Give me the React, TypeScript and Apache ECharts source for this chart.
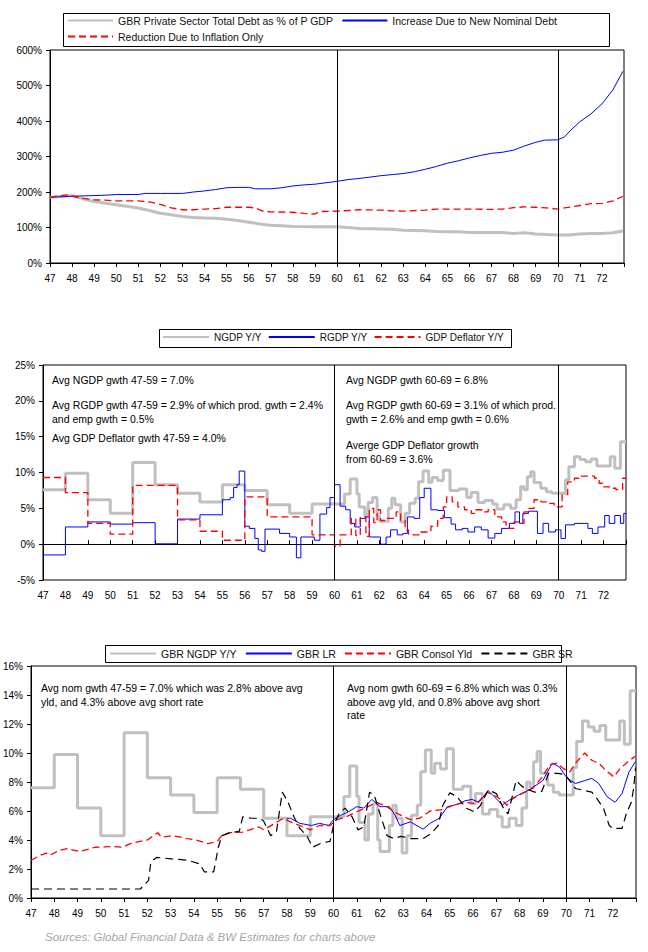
import React, { useEffect, useRef } from 'react';
import * as echarts from 'echarts';

const FONT = '"Liberation Sans", Arial, sans-serif';
const GRAY = '#c0c0c0';
const BLUE = '#0000ff';
const RED = '#ff0000';

// ---------- Chart 1: debt ratio ----------
const debtRatio = [
  [1947, 185], [1948, 190], [1948.5, 181], [1949, 173], [1950, 164], [1951, 155], [1951.5, 148],
  [1952, 140], [1953, 131], [1953.5, 128], [1954, 127], [1954.5, 126], [1955, 123], [1955.5, 120],
  [1956, 115], [1956.5, 110], [1957, 106], [1957.5, 105], [1958, 103], [1959, 102], [1960, 102],
  [1960.5, 100], [1961, 97], [1962, 96], [1962.5, 95], [1963, 92], [1964, 91], [1964.5, 89],
  [1965, 88], [1965.5, 88], [1966, 86], [1967, 86], [1967.5, 86], [1968, 83], [1968.5, 85],
  [1969, 82], [1969.5, 80], [1970, 79], [1970.5, 79], [1971, 82], [1971.5, 83], [1972, 83],
  [1972.5, 85], [1972.95, 90],
];
const newDebtIncrease = [
  [1947, 185], [1948, 188], [1949, 190], [1949.5, 191], [1950, 193], [1951, 193], [1951.3, 196],
  [1952, 196], [1953, 196], [1953.5, 200], [1954, 203], [1954.5, 207], [1955, 212], [1955.5, 213],
  [1956, 213], [1956.3, 209], [1957, 209], [1957.5, 212], [1958, 217], [1958.5, 220], [1959, 222],
  [1959.5, 226], [1960, 230], [1960.5, 235], [1961, 238], [1961.5, 242], [1962, 246], [1962.5, 249],
  [1963, 252], [1963.5, 257], [1964, 264], [1964.5, 272], [1965, 281], [1965.5, 288], [1966, 296],
  [1966.5, 303], [1967, 309], [1967.5, 312], [1968, 318], [1968.5, 330], [1969, 340], [1969.4, 346],
  [1970, 347], [1970.3, 355], [1970.6, 375], [1971, 398], [1971.5, 420], [1972, 448], [1972.5, 488],
  [1972.95, 540],
];
const inflationReduction = [
  [1947, 185], [1947.5, 190], [1947.8, 192], [1948, 188], [1948.5, 182], [1949, 178], [1949.5, 177],
  [1950, 175], [1951, 175], [1951.5, 172], [1952, 165], [1952.5, 155], [1953, 150], [1953.5, 150],
  [1954, 152], [1954.5, 153], [1955, 157], [1956, 157], [1956.3, 155], [1956.6, 147], [1957, 144],
  [1958, 143], [1958.5, 140], [1959, 138], [1959.2, 145], [1960, 146], [1961, 150], [1962, 149],
  [1962.5, 147], [1963, 146], [1964, 149], [1964.5, 152], [1965, 152], [1966, 152], [1967, 151],
  [1967.5, 152], [1968, 156], [1968.5, 158], [1969, 157], [1969.5, 155], [1970, 152], [1970.3, 155],
  [1971, 162], [1971.5, 167], [1972, 168], [1972.5, 175], [1972.95, 188],
];

// ---------- Chart 2 & 3: growth rates (step data, value holds until next point) ----------
const ngdpYoY = [
  [1947, 7.6], [1948, 9.9], [1949, 6.2], [1950, 4.3], [1951, 11.4], [1952, 8.3], [1953, 7.1],
  [1954, 5.9], [1955, 8.3], [1956, 7.5], [1957, 5.5], [1958, 4.3], [1959, 5.6],
  [1960.45, 7.0], [1960.7, 9.1], [1961.0, 7.0], [1961.1, 5.2], [1961.35, 4.0], [1961.5, 5.8],
  [1961.7, 6.5], [1961.9, 4.0], [1962.0, 3.2], [1962.4, 5.0], [1962.55, 6.4], [1962.7, 5.5],
  [1962.95, 3.1], [1963.15, 4.3], [1963.35, 5.7], [1963.6, 6.4], [1963.75, 8.7], [1963.95, 10.2],
  [1964.2, 8.6], [1964.35, 9.3], [1964.6, 8.9], [1964.85, 10.3], [1965.15, 7.5], [1965.55, 7.7],
  [1965.9, 6.5], [1966.1, 7.2], [1966.4, 5.8], [1966.7, 6.1], [1967.05, 5.6], [1967.25, 4.9],
  [1967.55, 5.5], [1967.85, 5.0], [1968.1, 6.2], [1968.3, 8.0], [1968.45, 7.6], [1968.6, 9.4],
  [1968.75, 10.1], [1968.9, 8.6], [1969.2, 7.8], [1969.45, 7.3], [1969.7, 7.1], [1970.3, 9.0],
  [1970.45, 10.8], [1970.7, 12.2], [1970.95, 11.8], [1971.2, 11.5], [1971.45, 11.9], [1971.7, 10.9],
  [1972.3, 12.2], [1972.5, 10.6], [1972.75, 14.3], [1973, 14.3],
];
const rgdpYoY = [
  [1947, -1.5], [1948, 2.4], [1949, 3.1], [1950, 2.8], [1951, 3.0], [1952, 0.05], [1953, 3.5],
  [1954, 4.1], [1955, 6.2], [1955.35, 6.5], [1955.5, 7.9], [1955.65, 8.3], [1955.75, 10.2],
  [1956.0, 2.5], [1956.2, 2.2], [1956.45, 0.8], [1956.6, -0.8], [1956.75, -1.0], [1956.9, 2.1],
  [1957.55, 1.5], [1958.0, 1.0], [1958.3, -1.9], [1958.5, 1.0], [1959.1, 0.55], [1959.35, 4.2],
  [1959.65, 5.1], [1959.8, 6.5], [1960.0, 8.3], [1960.25, 5.3], [1960.5, 4.8], [1960.7, 2.9],
  [1960.9, 2.4], [1961.15, 3.6], [1961.4, 3.8], [1961.55, 1.0], [1962.05, 0.0], [1962.3, 1.0],
  [1962.5, 2.0], [1962.8, 1.3], [1963.05, 1.5], [1963.25, 3.8], [1963.55, 3.6], [1963.8, 6.5],
  [1964.0, 7.8], [1964.3, 4.8], [1964.6, 4.7], [1964.9, 3.7], [1965.2, 2.8], [1965.4, 2.0],
  [1965.7, 2.2], [1965.95, 1.7], [1966.25, 2.4], [1966.55, 2.0], [1966.85, 0.85], [1967.15, 1.5],
  [1967.45, 2.2], [1967.8, 2.9], [1968.05, 4.5], [1968.25, 2.9], [1968.4, 4.3], [1968.65, 4.6],
  [1969.05, 1.5], [1969.3, 2.9], [1969.55, 1.7], [1969.85, 2.0], [1970.1, 0.8], [1970.3, 2.7],
  [1970.7, 2.9], [1971.3, 2.2], [1971.5, 1.5], [1971.75, 2.4], [1972.05, 4.0], [1972.25, 2.9],
  [1972.5, 4.0], [1972.75, 2.9], [1972.9, 4.3], [1973, 4.3],
];
const deflatorYoY = [
  [1947, 9.3], [1948, 7.2], [1949, 2.9], [1950, 1.4], [1951, 8.2], [1953, 3.4], [1954, 1.8],
  [1955, 0.55], [1956, 6.6], [1957, 3.8], [1959, 1.3], [1960, -0.3], [1960.25, 1.3], [1960.75, 3.6],
  [1960.95, 1.2], [1961.15, 3.8], [1961.4, 1.1], [1961.55, 5.0], [1961.75, 3.0], [1961.9, 4.8],
  [1962.05, 3.3], [1962.25, 3.6], [1962.75, 4.5], [1962.95, 3.3], [1963.15, 2.0], [1963.3, 1.3],
  [1963.85, 1.7], [1964.3, 2.5], [1964.6, 3.6], [1964.85, 5.2], [1965.0, 6.6], [1965.25, 5.9],
  [1965.5, 5.2], [1965.8, 4.8], [1966.1, 4.3], [1966.3, 4.8], [1966.6, 4.5], [1966.85, 4.8],
  [1967.15, 3.8], [1967.45, 3.1], [1967.65, 2.2], [1968.0, 3.1], [1968.25, 2.9], [1968.45, 4.5],
  [1968.65, 5.0], [1968.9, 6.2], [1969.2, 5.9], [1969.5, 5.7], [1969.8, 5.2], [1970.15, 6.9],
  [1970.4, 8.7], [1970.7, 9.2], [1971.0, 9.5], [1971.6, 9.2], [1971.8, 8.5], [1972.0, 8.0],
  [1972.35, 7.8], [1972.55, 7.6], [1972.85, 9.2], [1973, 9.2],
];

// ---------- Chart 3: interest rates ----------
const longRate = [
  [1958.0, 5.5], [1958.15, 5.5], [1958.55, 5.15], [1959.05, 5.0], [1959.4, 5.15], [1959.8, 5.0],
  [1960.0, 5.4], [1960.3, 5.7], [1960.65, 5.95], [1961.0, 6.3], [1961.3, 6.2], [1961.65, 6.8],
  [1962.0, 6.3], [1962.4, 6.3], [1962.65, 5.7], [1962.85, 5.0], [1963.3, 5.25], [1963.85, 4.75],
  [1964.15, 5.15], [1964.55, 5.5], [1964.9, 6.3], [1965.3, 6.45], [1965.65, 6.7], [1965.95, 6.8],
  [1966.25, 6.6], [1966.65, 7.4], [1967.0, 6.85], [1967.25, 6.4], [1967.55, 6.75], [1967.95, 7.1],
  [1968.4, 7.45], [1969.0, 8.1], [1969.4, 9.3], [1969.7, 9.05], [1970.05, 8.25], [1970.4, 7.9],
  [1970.8, 8.1], [1971.1, 8.25], [1971.4, 7.9], [1971.75, 7.0], [1972.1, 6.6], [1972.4, 7.2],
  [1972.7, 8.7], [1972.97, 9.4],
];
const consolYield = [
  [1947, 2.6], [1947.4, 2.95], [1947.65, 3.1], [1947.8, 2.95], [1948.25, 3.3], [1948.55, 3.4],
  [1949.1, 3.2], [1949.75, 3.5], [1950.5, 3.55], [1950.9, 3.5], [1951.35, 3.8], [1952.0, 4.0],
  [1952.45, 4.5], [1952.6, 4.2], [1953.1, 4.3], [1953.7, 4.1], [1954.1, 4.0], [1954.6, 3.75],
  [1955.0, 3.9], [1955.2, 4.3], [1955.5, 4.5], [1956.1, 4.55], [1956.8, 4.9], [1957.0, 4.7],
  [1957.85, 5.5], [1958.15, 5.25], [1958.55, 5.0], [1959.0, 4.7], [1959.4, 5.0], [1959.85, 5.0],
  [1960.15, 5.4], [1960.55, 5.6], [1961.0, 5.95], [1961.35, 6.2], [1961.85, 6.6], [1962.3, 6.3],
  [1962.6, 5.95], [1962.9, 5.7], [1963.3, 5.4], [1963.7, 5.5], [1964.15, 6.0], [1964.7, 6.1],
  [1965.15, 6.4], [1965.65, 6.6], [1966.15, 6.5], [1966.6, 7.3], [1967.0, 7.0], [1967.25, 6.75],
  [1967.45, 6.4], [1967.7, 6.85], [1968.1, 7.2], [1968.55, 7.55], [1968.95, 8.3], [1969.3, 9.2],
  [1969.6, 9.3], [1969.9, 8.9], [1970.15, 8.7], [1970.45, 9.4], [1970.8, 10.0], [1971.1, 9.5],
  [1971.4, 9.3], [1971.7, 8.8], [1972.05, 8.35], [1972.3, 8.9], [1972.65, 9.4], [1972.95, 9.75],
];
const shortRate = [
  [1947, 0.62], [1951.7, 0.62], [1951.85, 0.9], [1952.05, 1.2], [1952.15, 2.5], [1952.4, 2.8],
  [1953.05, 2.7], [1953.75, 2.6], [1954.25, 2.35], [1954.45, 1.8], [1954.85, 1.8], [1955.05, 3.5],
  [1955.2, 4.3], [1955.55, 4.5], [1955.95, 4.6], [1956.1, 5.6], [1956.45, 5.5], [1956.85, 5.5],
  [1957.0, 5.3], [1957.3, 4.3], [1957.55, 4.6], [1957.8, 7.3], [1958.05, 6.6], [1958.3, 5.6],
  [1958.55, 4.8], [1958.85, 4.3], [1959.1, 3.5], [1959.5, 3.8], [1959.85, 3.9], [1960.0, 5.0],
  [1960.25, 5.85], [1960.5, 6.2], [1960.8, 5.6], [1961.05, 4.7], [1961.3, 4.9], [1961.55, 7.3],
  [1961.75, 7.1], [1962.0, 5.8], [1962.3, 4.3], [1962.6, 4.1], [1962.9, 4.25], [1963.35, 4.1],
  [1963.85, 4.1], [1964.2, 4.45], [1964.5, 5.0], [1964.7, 6.4], [1965.0, 7.25], [1965.3, 7.0],
  [1965.7, 6.2], [1966.05, 5.95], [1966.3, 6.35], [1966.65, 7.45], [1967.0, 7.2], [1967.3, 6.2],
  [1967.5, 5.8], [1967.85, 8.1], [1968.1, 7.7], [1968.4, 7.45], [1968.65, 7.3], [1968.95, 7.35],
  [1969.25, 8.6], [1969.65, 8.6], [1969.95, 8.5], [1970.15, 8.1], [1970.4, 7.55], [1970.7, 7.45],
  [1971.1, 7.3], [1971.3, 6.9], [1971.6, 6.2], [1971.85, 5.0], [1972.0, 4.8], [1972.4, 4.8],
  [1972.6, 5.9], [1972.8, 6.6], [1972.9, 7.6], [1972.98, 9.0],
];

const dividerYears = [1960, 1970];

const legendTop1 = ['GBR Private Sector Total Debt as % of P GDP', 'Increase Due to New Nominal Debt'];
const legendTop2 = ['Reduction Due to Inflation Only'];
const legendMid = ['NGDP Y/Y', 'RGDP Y/Y', 'GDP Deflator Y/Y'];
const legendBot = ['GBR NGDP Y/Y', 'GBR LR', 'GBR Consol Yld', 'GBR SR'];

const midNotesLeft = [
  'Avg NGDP gwth 47-59 = 7.0%',
  'Avg RGDP gwth 47-59 = 2.9% of which prod. gwth = 2.4%',
  'and emp gwth = 0.5%',
  'Avg GDP Deflator gwth 47-59 = 4.0%',
];
const midNotesRight = [
  'Avg NGDP gwth 60-69 = 6.8%',
  'Avg RGDP gwth 60-69 = 3.1% of which prod.',
  'gwth = 2.6% and emp gwth = 0.6%',
  'Averge GDP Deflator growth',
  'from 60-69 = 3.6%',
];
const botNotesLeft = [
  'Avg nom gwth 47-59 = 7.0% which was 2.8% above avg',
  'yld, and 4.3% above avg short rate',
];
const botNotesRight = [
  'Avg nom gwth 60-69 = 6.8% which was 0.3%',
  'above avg yld, and 0.8% above avg short',
  'rate',
];
const sourceNote = 'Sources: Global Financial Data & BW Estimates for charts above';

const labelStyle = { fontSize: 10, color: '#000', fontFamily: FONT };
const legendText = { fontSize: 10.5, color: '#111', fontFamily: FONT };
const legendTextSmall = { fontSize: 10, color: '#111', fontFamily: FONT };

function xAxisFor(gridIndex: number, extra: any = {}) {
  return {
    type: 'value',
    gridIndex,
    min: 1947,
    max: 1973,
    interval: 1,
    splitLine: { show: false },
    axisLine: { onZero: false, lineStyle: { color: '#000', width: 1 } },
    axisTick: { show: true, length: 4, lineStyle: { color: '#000' } },
    axisLabel: {
      ...labelStyle,
      margin: 10,
      formatter: (v: number) => (Math.round(v) >= 1973 ? '' : String(Math.round(v) % 100)),
    },
    ...extra,
  };
}

function yAxisFor(gridIndex: number, min: number, max: number, interval: number) {
  return {
    type: 'value',
    gridIndex,
    min,
    max,
    interval,
    splitLine: { show: false },
    axisLine: { show: true, onZero: false, lineStyle: { color: '#000' } },
    axisTick: { show: true, length: 4, lineStyle: { color: '#000' } },
    axisLabel: { ...labelStyle, margin: 8, formatter: '{value}%' },
  };
}

const dividers = {
  silent: true,
  symbol: ['none', 'none'],
  label: { show: false },
  lineStyle: { color: '#000', width: 1, type: 'solid' },
  data: dividerYears.map((y) => ({ xAxis: y })),
};

function lineSeries(name: string, data: number[][], xi: number, yi: number, style: any, extra: any = {}) {
  return {
    type: 'line',
    name,
    data,
    xAxisIndex: xi,
    yAxisIndex: yi,
    symbol: 'none',
    showSymbol: false,
    itemStyle: { color: style.color },
    lineStyle: style,
    ...extra,
  };
}

function textEl(text: string, x: number, y: number, extra: any = {}) {
  return {
    type: 'text',
    x,
    y,
    silent: true,
    style: {
      text,
      fill: '#000',
      fontSize: 10.5,
      fontFamily: FONT,
      align: 'left',
      verticalAlign: 'middle',
      ...extra,
    },
  };
}

function frameEl(x: number, y: number, w: number, h: number) {
  return {
    type: 'rect',
    silent: true,
    shape: { x, y, width: w, height: h },
    style: { fill: 'none', stroke: '#000', lineWidth: 1 },
  };
}

const legendBase = {
  padding: 0,
  itemHeight: 10,
  itemStyle: { opacity: 0 },
  selectedMode: false,
};

const option: any = {
  animation: false,
  backgroundColor: '#fff',
  textStyle: { fontFamily: FONT },
  grid: [
    { left: 50, top: 50, width: 574, height: 213, show: true, borderColor: '#000', borderWidth: 1, backgroundColor: 'transparent' },
    { left: 43, top: 365, width: 583, height: 215, show: true, borderColor: '#000', borderWidth: 1, backgroundColor: 'transparent' },
    { left: 31, top: 666, width: 605, height: 232, show: true, borderColor: '#000', borderWidth: 1, backgroundColor: 'transparent' },
  ],
  xAxis: [
    xAxisFor(0),
    xAxisFor(1, { axisTick: { show: false }, axisLine: { show: false, onZero: false } }),
    xAxisFor(1, {
      axisLine: { show: true, onZero: true, lineStyle: { color: '#000', width: 1 } },
      axisLabel: { show: false },
    }),
    xAxisFor(2),
  ],
  yAxis: [yAxisFor(0, 0, 600, 100), yAxisFor(1, -5, 25, 5), yAxisFor(2, 0, 16, 2)],
  legend: [
    { ...legendBase, left: 67, top: 15, itemGap: 8, itemWidth: 45, data: legendTop1, textStyle: legendText },
    { ...legendBase, left: 67, top: 31, itemGap: 8, itemWidth: 45, data: legendTop2, textStyle: legendText },
    { ...legendBase, left: 162, top: 332, itemGap: 6, itemWidth: 46, data: legendMid, textStyle: legendTextSmall },
    { ...legendBase, left: 109, top: 648, itemGap: 8, itemWidth: 46, data: legendBot, textStyle: legendText },
  ],
  series: [
    lineSeries(legendTop1[0], debtRatio, 0, 0, { color: GRAY, width: 3 }, { markLine: dividers }),
    lineSeries(legendTop1[1], newDebtIncrease, 0, 0, { color: BLUE, width: 1 }),
    lineSeries(legendTop2[0], inflationReduction, 0, 0, { color: RED, width: 1.3, type: [7, 4] }),

    lineSeries(legendMid[0], ngdpYoY, 1, 1, { color: GRAY, width: 3 }, { step: 'end', markLine: dividers }),
    lineSeries(legendMid[1], rgdpYoY, 1, 1, { color: BLUE, width: 1 }, { step: 'end' }),
    lineSeries(legendMid[2], deflatorYoY, 1, 1, { color: RED, width: 1.3, type: [7, 4] }, { step: 'end' }),

    lineSeries(legendBot[0], ngdpYoY, 3, 2, { color: GRAY, width: 3 }, { step: 'end', markLine: dividers }),
    lineSeries(legendBot[1], longRate, 3, 2, { color: BLUE, width: 1 }),
    lineSeries(legendBot[2], consolYield, 3, 2, { color: RED, width: 1.3, type: [7, 4] }),
    lineSeries(legendBot[3], shortRate, 3, 2, { color: '#000', width: 1.2, type: [8, 5] }),
  ],
  graphic: [
    frameEl(63.5, 13.5, 546, 33),
    frameEl(159.5, 329.5, 352, 18),
    frameEl(105.5, 645.5, 456, 17),
    ...midNotesLeft.map((t, i) => textEl(t, 52, [380, 405, 419, 438][i])),
    ...midNotesRight.map((t, i) => textEl(t, 346, [380, 405, 419, 445, 459][i])),
    ...botNotesLeft.map((t, i) => textEl(t, 41, [688, 702][i])),
    ...botNotesRight.map((t, i) => textEl(t, 347, [688, 702, 715][i])),
    textEl(sourceNote, 45, 937, { fill: '#a6a6a6', fontSize: 11.5, fontStyle: 'italic' }),
  ],
};

export default function App() {
  const ref = useRef<HTMLDivElement>(null);
  useEffect(() => {
    if (!ref.current) return;
    const chart = echarts.init(ref.current, null, { renderer: 'svg' });
    chart.setOption(option);
    return () => chart.dispose();
  }, []);
  return (
    <div
      ref={ref}
      style={{ position: 'fixed', left: 0, top: 0, width: 648, height: 952, background: '#fff' }}
    />
  );
}
